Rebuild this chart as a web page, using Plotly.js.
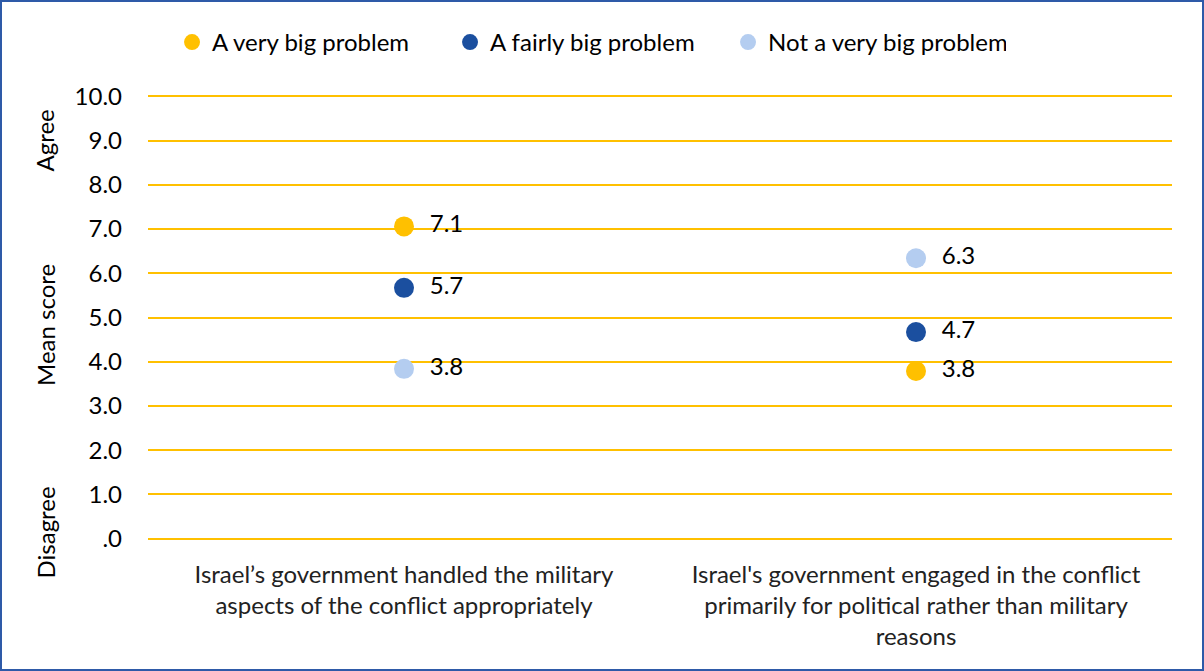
<!DOCTYPE html>
<html>
<head>
<meta charset="utf-8">
<script src="https://cdn.plot.ly/plotly-3.0.1.min.js"></script>
<style>
  html, body { margin: 0; padding: 0; background: #fff; }
  #chart { width: 1200px; height: 667px; border: 2px solid #2E5AA8; }
</style>
</head>
<body>
<div id="chart"></div>
<script>
const categories = [
  "Israel\u2019s government handled the military<br>aspects of the conflict appropriately",
  "Israel's government engaged in the conflict<br>primarily for political rather than military<br>reasons"
];
const seriesNames = ["A very big problem", "A fairly big problem", "Not a very big problem"];
const veryBig = [7.06, 3.79];
const fairlyBig = [5.67, 4.67];
const notVeryBig = [3.84, 6.34];
const tickValues = [0, 1, 2, 3, 4, 5, 6, 7, 8, 9, 10];
const tickLabels = [".0", "1.0", "2.0", "3.0", "4.0", "5.0", "6.0", "7.0", "8.0", "9.0", "10.0"];
const sideLabels = ["Agree", "Mean score", "Disagree"];
const sideLabelPos = [9.0, 4.83, 0.14];

const colors = ["#FFC000", "#1B4F9F", "#B4CDF0"];
const FONT = "Lato, 'Open Sans', sans-serif";
const FS = 24;

const seriesData = [veryBig, fairlyBig, notVeryBig];
const traces = seriesData.map((vals, i) => ({
  type: "scatter",
  mode: "markers+text",
  name: seriesNames[i],
  x: categories,
  y: vals,
  marker: { color: colors[i], size: 20 },
  texttemplate: "\u00a0\u00a0%{y:.1f}",
  textposition: "middle right",
  textfont: { family: FONT, size: FS, color: "#000" },
  cliponaxis: false,
  hoverinfo: "x+y"
}));

const layout = {
  width: 1200,
  height: 667,
  margin: { l: 146, r: 30, t: 93, b: 129 },
  paper_bgcolor: "#fff",
  plot_bgcolor: "#fff",
  font: { family: FONT, size: FS, color: "#000" },
  showlegend: true,
  legend: {
    orientation: "h",
    x: 0.4307, xanchor: "center",
    y: 1.118, yanchor: "middle",
    entrywidth: 233,
    entrywidthmode: "pixels",
    font: { family: FONT, size: FS, color: "#000" },
    itemsizing: "trace"
  },
  xaxis: {
    type: "category",
    range: [-0.5, 1.5],
    showgrid: false,
    zeroline: false,
    showline: false,
    ticks: "",
    tickfont: { family: FONT, size: FS, color: "#222" },
    ticklabelstandoff: 18
  },
  yaxis: {
    range: [-0.03, 10.03],
    tickvals: tickValues,
    ticktext: tickLabels,
    showgrid: true,
    gridcolor: "#FFC000",
    gridwidth: 2,
    zeroline: false,
    showline: false,
    ticks: "",
    ticklabelstandoff: 25,
    tickfont: { family: FONT, size: FS, color: "#000" }
  },
  annotations: sideLabels.map((t, i) => ({
    text: t,
    xref: "paper", yref: "y",
    x: -0.1006, y: sideLabelPos[i],
    xanchor: "center", yanchor: "middle",
    textangle: -90,
    showarrow: false,
    font: { family: FONT, size: FS, color: "#000" }
  }))
};

Plotly.newPlot("chart", traces, layout, { displayModeBar: false });
</script>
</body>
</html>
